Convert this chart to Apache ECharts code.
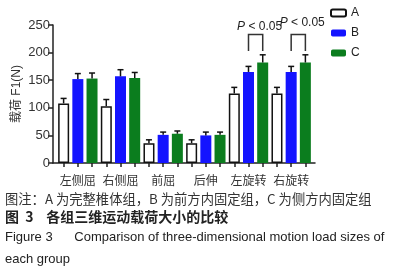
<!DOCTYPE html>
<html>
<head>
<meta charset="utf-8">
<script src="https://cdn.jsdelivr.net/npm/echarts@6/dist/echarts.min.js"></script>
<style>
  html, body { margin: 0; padding: 0; background: #fff; }
  #main { width: 394px; height: 276px; }
</style>
</head>
<body>
<div id="main"></div>
<script>
var categories = ['左侧屈', '右侧屈', '前屈', '后伸', '左旋转', '右旋转'];
var groupA = [108, 103, 36, 36, 126, 126];
var groupB = [152, 157, 51, 50, 165, 165];
var groupC = [153, 154, 53, 51, 182, 182];
var errA = [9, 12, 6, 6, 11, 11];
var errB = [10, 12, 5, 6, 10, 10];
var errC = [10, 10, 5, 5, 14, 14];
var yMin = 0, yMax = 250, yStep = 50;
// 显著性标注：组序号, 括号下端, 括号上端, 文字高度
var sigGroups = [4, 5];
var sigLow = [203, 203];
var sigHigh = [233, 233];
var sigTextAt = [247, 254];

var chart = echarts.init(document.getElementById('main'), null, { renderer: 'canvas' });

// 每根柱子一个刻度位置（18 个）
var slots = [];
var errData = [];
for (var g = 0; g < categories.length; g++) {
	var vals = [groupA[g], groupB[g], groupC[g]];
	var errs = [errA[g], errB[g], errC[g]];
	for (var s = 0; s < 3; s++) {
		slots.push('');
		errData.push([g * 3 + s, vals[s], errs[s]]);
	}
}
var sigData = [];
for (var i = 0; i < sigGroups.length; i++) {
	sigData.push([sigGroups[i] * 3 + 1, sigGroups[i] * 3 + 2, sigLow[i], sigHigh[i], sigTextAt[i]]);
}

var lineStyle = { stroke: '#111', lineWidth: 1.5 };

option = {
	animation: false,
	grid: [
		{ left: 53, top: 25, width: 262, height: 138, outerBoundsMode: 'none' },
		{ left: 56.5, top: 25, width: 256, height: 138, outerBoundsMode: 'none' }
	],
	legend: {
		data: ['A', 'B', 'C'],
		orient: 'vertical',
		left: 325,
		top: 2,
		itemWidth: 15,
		itemHeight: 7,
		itemGap: 8,
		textStyle: { fontFamily: 'Liberation Sans', fontSize: 12, color: '#222' }
	},
	xAxis: [
		{
			gridIndex: 0, type: 'category', data: [''], position: 'bottom',
			axisLine: { show: true, lineStyle: { color: '#222', width: 1.5 } },
			axisTick: { show: false },
			axisLabel: { show: false }
		},
		{
			gridIndex: 1, type: 'category', data: categories, position: 'bottom',
			axisLine: { show: false },
			axisTick: { show: false },
			axisLabel: {
				interval: 0, margin: 11,
				fontFamily: 'Noto Sans CJK SC', fontSize: 12, color: '#333'
			}
		},
		{
			gridIndex: 1, type: 'category', data: slots, position: 'bottom',
			axisLine: { show: false },
			axisTick: { show: true, alignWithLabel: true, interval: 0, length: 4, lineStyle: { color: '#222', width: 1.5 } },
			axisLabel: { show: false, interval: 0 }
		}
	],
	yAxis: [
		{
			gridIndex: 0, type: 'value', min: yMin, max: yMax, interval: yStep,
			name: '载荷 F1(N)',
			nameLocation: 'middle',
			nameGap: 30,
			nameMoveOverlap: false,
			nameTextStyle: { fontFamily: 'Liberation Sans, Noto Sans CJK SC', fontSize: 12, color: '#333' },
			axisLine: { show: true, lineStyle: { color: '#222', width: 1.5 } },
			axisTick: { show: true, length: 5, lineStyle: { color: '#222', width: 1.5 } },
			axisLabel: { margin: 3, fontFamily: 'Liberation Sans', fontSize: 13, color: '#333' },
			splitLine: { show: false }
		},
		{
			gridIndex: 1, type: 'value', min: yMin, max: yMax, interval: yStep, show: false
		}
	],
	series: [
		{
			name: 'A', type: 'bar', xAxisIndex: 1, yAxisIndex: 1,
			barWidth: 11, barGap: '29%',
			itemStyle: { color: '#fff', borderColor: '#111', borderWidth: 1.5 },
			data: groupA
		},
		{
			name: 'B', type: 'bar', xAxisIndex: 1, yAxisIndex: 1,
			barWidth: 11, barGap: '29%',
			itemStyle: { color: '#1414ff' },
			data: groupB
		},
		{
			name: 'C', type: 'bar', xAxisIndex: 1, yAxisIndex: 1,
			barWidth: 11, barGap: '29%',
			itemStyle: { color: '#0b7d1e' },
			data: groupC
		},
		{
			// 误差线
			type: 'custom', xAxisIndex: 2, yAxisIndex: 1, z: 5,
			renderItem: function (params, api) {
				var x = api.value(0), v = api.value(1), e = api.value(2);
				var p0 = api.coord([x, v]);
				var p1 = api.coord([x, v + e]);
				return {
					type: 'group',
					children: [
						{ type: 'line', shape: { x1: p0[0], y1: p0[1], x2: p1[0], y2: p1[1] }, style: lineStyle },
						{ type: 'line', shape: { x1: p1[0] - 3, y1: p1[1], x2: p1[0] + 3, y2: p1[1] }, style: lineStyle }
					]
				};
			},
			data: errData
		},
		{
			// 显著性括号
			type: 'custom', xAxisIndex: 2, yAxisIndex: 1, z: 5,
			renderItem: function (params, api) {
				var a = api.coord([api.value(0), api.value(2)]);
				var b = api.coord([api.value(1), api.value(2)]);
				var top = api.coord([api.value(0), api.value(3)])[1];
				var ty = api.coord([api.value(0), api.value(4)])[1];
				return {
					type: 'group',
					children: [
						{
							type: 'polyline',
							shape: { points: [[a[0], a[1]], [a[0], top], [b[0], top], [b[0], b[1]]] },
							style: { stroke: '#333', lineWidth: 1.5, fill: null }
						},
						{
							type: 'text',
							style: {
								x: (a[0] + b[0]) / 2 + 4, y: ty,
								rich: {
									i: { fontStyle: 'italic', fontFamily: 'Liberation Sans', fontSize: 12, fill: '#222' },
									n: { fontFamily: 'Liberation Sans', fontSize: 12, fill: '#222' }
								},
								text: '{i|P}{n| < 0.05}',
								align: 'center', verticalAlign: 'middle'
							}
						}
					]
				};
			},
			data: sigData
		}
	],
	graphic: [
		{
			type: 'text', left: 5, top: 192,
			style: { text: '图注：A 为完整椎体组，B 为前方内固定组，C 为侧方内固定组', fontFamily: 'Noto Sans CJK SC', fontSize: 13.3, fill: '#333' }
		},
		{
			type: 'text', left: 5, top: 210,
			style: { text: '图  3    各组三维运动载荷大小的比较', fontFamily: 'Noto Sans CJK SC', fontWeight: 'bold', fontSize: 14, fill: '#222' }
		},
		{
			type: 'text', left: 5, top: 231,
			style: { text: 'Figure 3      Comparison of three-dimensional motion load sizes of', fontFamily: 'Liberation Sans', fontSize: 13, fill: '#222' }
		},
		{
			type: 'text', left: 5, top: 253,
			style: { text: 'each group', fontFamily: 'Liberation Sans', fontSize: 13, fill: '#222' }
		}
	]
};

chart.setOption(option);
</script>
</body>
</html>
